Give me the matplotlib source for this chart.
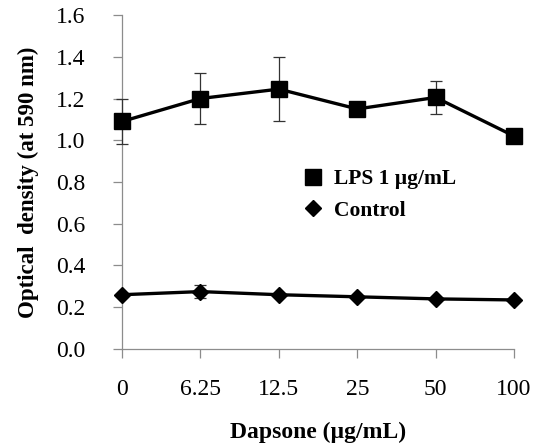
import matplotlib
matplotlib.use("Agg")
import matplotlib.pyplot as plt
from matplotlib.lines import Line2D

doses = ["0", "6.25", "12.5", "25", "50", "100"]
lps_mean = [1.09, 1.20, 1.245, 1.15, 1.205, 1.02]
lps_err = [0.11, 0.12, 0.155, 0.0, 0.08, 0.0]
control_mean = [0.26, 0.275, 0.26, 0.25, 0.24, 0.235]
control_err = [0.0, 0.03, 0.0, 0.0, 0.0, 0.0]

plt.rcParams["font.family"] = ["Liberation Serif", "DejaVu Serif"]

fig = plt.figure(figsize=(5.4, 4.48), dpi=100)
ax = fig.add_axes([0.226, 0.221, 0.726, 0.7455])

x = list(range(len(doses)))
for mean, err, mk, ms in [(lps_mean, lps_err, "s", 12), (control_mean, control_err, "D", 8.5)]:
    cont = ax.errorbar(x, mean, yerr=err, color="black", marker=mk, markersize=ms,
                       linewidth=2.4, ecolor="#333333", elinewidth=0.9, capsize=4,
                       capthick=0.9, zorder=3)
    for art in cont.get_children():
        art.set_clip_on(False)

ax.set_xlim(0, 5)
ax.set_ylim(0, 1.6)
ax.set_yticks([0.0, 0.2, 0.4, 0.6, 0.8, 1.0, 1.2, 1.4, 1.6])
ax.set_yticklabels(["%.1f" % v for v in ax.get_yticks()])
ax.set_xticks(x)
ax.set_xticklabels(doses)
for sp in ["top", "right"]:
    ax.spines[sp].set_visible(False)
for sp in ["left", "bottom"]:
    ax.spines[sp].set_color("#8c8c8c")
    ax.spines[sp].set_linewidth(0.9)
ax.tick_params(axis="both", direction="out", length=6.5, width=0.9, color="#8c8c8c",
               labelsize=17)
ax.tick_params(axis="y", pad=20)
ax.tick_params(axis="x", pad=15)

ax.set_xlabel("Dapsone (\u00b5g/mL)", fontsize=17, fontweight="bold", labelpad=16)
ax.set_ylabel("Optical  density (at 590 nm)", fontsize=16.5, fontweight="bold", labelpad=12)

handles = [Line2D([], [], color="black", marker="s", markersize=12, linestyle="none"),
           Line2D([], [], color="black", marker="D", markersize=8.5, linestyle="none")]
ax.legend(handles, ["LPS 1 \u00b5g/mL", "Control"], loc="upper left",
          bbox_to_anchor=(0.405, 0.597), frameon=False, handletextpad=0.35,
          labelspacing=0.55, prop={"weight": "bold", "size": 15.5}, handlelength=1.2)

plt.savefig("out.png", dpi=100)
